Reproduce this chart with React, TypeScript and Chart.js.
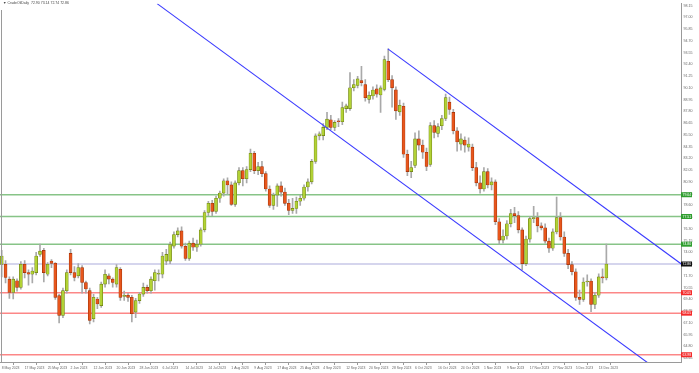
import React, { useEffect, useRef } from 'react';
import { Chart, registerables } from 'chart.js';

Chart.register(...registerables);

const xTickLabels = [
  '8 May 2023', '17 May 2023', '25 May 2023', '2 Jun 2023', '12 Jun 2023', '20 Jun 2023',
  '28 Jun 2023', '6 Jul 2023', '14 Jul 2023', '24 Jul 2023', '1 Aug 2023', '9 Aug 2023',
  '17 Aug 2023', '25 Aug 2023', '4 Sep 2023', '12 Sep 2023', '20 Sep 2023', '28 Sep 2023',
  '6 Oct 2023', '16 Oct 2023', '24 Oct 2023', '1 Nov 2023', '9 Nov 2023', '17 Nov 2023',
  '27 Nov 2023', '5 Dec 2023', '13 Dec 2023',
];
const xTickStep = 6;

const yTickValues = [
  63.65, 64.8, 65.95, 67.1, 68.25, 69.4, 70.55, 71.7, 72.85, 74.0, 75.15, 76.3, 77.45, 78.6,
  79.75, 80.9, 82.05, 83.2, 84.35, 85.5, 86.65, 87.8, 88.95, 90.1, 91.25, 92.4, 93.55, 94.7,
  95.85, 97.0, 98.15,
];

const opens = [
  72.83, 72.83, 71.38, 70.08, 71.22, 70.57, 72.83, 72.02, 71.86, 72.02,
  73.8, 74.19, 71.86, 73.15, 72.93, 69.76, 67.82, 70.25, 73.9, 72.02,
  71.7, 72.51, 71.05, 70.25, 67.5, 69.44, 68.79, 70.89, 71.7, 71.38,
  70.89, 72.35, 69.7, 69.8, 69.6, 68.15, 69.28, 69.92, 70.57, 70.25,
  71.22, 71.86, 71.86, 73.15, 73.15, 74.61, 75.74, 76.1, 74.6, 73.4,
  74.9, 74.5, 74.8, 76.2, 77.9, 78.8, 78.0, 79.3, 79.8, 81.0,
  80.6, 78.7, 80.8, 82.0, 81.2, 82.1, 83.7, 82.0, 82.4, 81.7,
  80.2, 78.6, 79.6, 80.5, 79.9, 78.8, 78.1, 78.3, 79.0, 79.3,
  80.4, 80.9, 82.9, 85.4, 85.43, 86.23, 86.98, 86.23, 86.8, 86.78,
  88.07, 88.07, 90.11, 90.33, 90.82, 90.43, 88.98, 89.3, 90.0, 89.4,
  89.95, 92.7, 90.9, 89.9, 87.75, 88.3, 83.6, 81.9, 82.5, 85.1,
  84.5, 83.8, 82.6, 86.4, 85.65, 86.4, 87.1, 88.7, 87.7, 85.9,
  84.6, 85.0, 84.3, 84.3, 82.3, 80.8, 80.2, 81.9, 80.6, 80.9,
  77.0, 75.2, 75.6, 76.8, 77.8, 77.6, 76.2, 72.9, 75.3, 77.3,
  77.4, 76.6, 76.4, 75.1, 74.4, 76.0, 77.4, 75.5, 73.9, 72.8,
  72.1, 69.6, 69.4, 71.1, 71.2, 68.9, 69.8, 71.6, 71.5,
];
const highs = [
  74.2, 73.2, 71.6, 71.6, 71.4, 73.1, 73.2, 72.3, 72.5, 74.0,
  74.8, 74.4, 73.0, 73.3, 73.0, 69.9, 70.5, 72.3, 74.3, 72.6,
  72.9, 72.7, 71.2, 70.5, 69.9, 69.6, 71.1, 72.3, 71.9, 71.5,
  72.8, 72.5, 70.2, 70.0, 69.8, 69.5, 70.1, 71.0, 70.8, 71.6,
  72.3, 72.3, 74.0, 74.3, 75.0, 76.0, 76.4, 76.5, 74.9, 75.1,
  75.4, 75.2, 76.4, 78.1, 79.0, 79.1, 79.5, 80.0, 81.2, 81.3,
  80.9, 81.0, 82.3, 82.3, 82.4, 84.1, 83.9, 82.8, 82.9, 81.9,
  80.5, 79.8, 80.7, 80.9, 80.3, 79.2, 79.3, 79.4, 79.6, 80.6,
  81.2, 83.1, 85.6, 85.8, 86.6, 87.7, 87.4, 86.9, 87.1, 88.7,
  88.5, 91.6, 90.9, 91.24, 92.2, 90.9, 89.7, 90.2, 90.4, 90.3,
  93.2, 93.92, 91.3, 90.2, 88.9, 88.6, 84.0, 82.9, 85.7, 85.9,
  85.0, 84.2, 86.7, 86.9, 86.6, 87.4, 89.5, 89.2, 88.0, 86.2,
  85.6, 85.3, 85.2, 84.6, 82.8, 81.5, 82.3, 82.2, 81.3, 81.1,
  77.3, 76.2, 77.1, 78.2, 78.4, 78.0, 76.4, 75.6, 77.5, 78.5,
  77.9, 76.9, 76.8, 75.4, 76.3, 79.4, 77.9, 76.0, 74.3, 73.1,
  72.4, 70.3, 71.5, 71.8, 71.4, 70.1, 71.9, 72.4, 74.8,
];
const lows = [
  71.6, 71.0, 69.5, 69.44, 70.2, 70.4, 71.5, 70.8, 71.0, 71.8,
  73.6, 71.1, 71.7, 72.5, 69.4, 67.1, 67.6, 70.0, 71.8, 71.2,
  71.5, 70.0, 70.0, 67.0, 67.2, 68.5, 68.6, 70.6, 70.9, 70.6,
  70.6, 69.3, 69.3, 69.2, 67.2, 67.6, 69.0, 69.7, 70.0, 70.0,
  70.3, 71.2, 71.5, 72.8, 72.9, 74.4, 75.5, 74.4, 73.2, 73.2,
  74.2, 74.1, 74.6, 76.0, 77.6, 77.6, 77.8, 78.9, 79.5, 79.7,
  78.6, 78.5, 80.6, 80.5, 80.8, 81.9, 81.7, 81.6, 81.4, 80.0,
  78.4, 78.2, 78.5, 79.5, 78.6, 77.7, 77.8, 77.8, 78.6, 79.1,
  80.0, 80.7, 82.7, 85.0, 85.0, 86.0, 86.0, 85.9, 86.3, 86.5,
  87.7, 87.9, 89.8, 90.1, 90.3, 88.8, 88.6, 89.0, 89.2, 87.7,
  89.8, 90.7, 88.2, 87.0, 87.4, 83.3, 81.5, 81.3, 82.3, 84.0,
  83.2, 82.0, 82.4, 85.2, 85.3, 86.0, 86.9, 87.5, 85.6, 83.9,
  84.0, 83.8, 83.9, 82.0, 80.5, 79.8, 80.0, 80.3, 80.1, 76.7,
  74.8, 74.9, 75.3, 76.5, 76.9, 75.9, 72.3, 72.7, 75.0, 76.9,
  76.0, 76.2, 74.9, 74.0, 74.2, 75.8, 75.2, 73.6, 72.4, 71.8,
  69.3, 68.9, 69.2, 70.7, 68.2, 68.5, 69.6, 71.0, 71.3,
];
const closes = [
  73.64, 71.54, 70.08, 71.38, 70.57, 72.83, 72.02, 71.86, 72.18, 73.64,
  74.12, 72.02, 72.83, 72.93, 69.6, 67.82, 70.25, 72.02, 72.02, 71.54,
  72.51, 71.05, 70.41, 67.34, 69.6, 68.95, 70.89, 71.86, 71.38, 71.05,
  72.51, 69.6, 69.76, 69.6, 67.99, 69.28, 69.92, 70.57, 70.25, 71.38,
  72.02, 71.93, 73.64, 73.8, 74.77, 75.74, 76.1, 74.6, 73.4, 74.9,
  74.5, 74.8, 76.2, 77.9, 78.8, 78.0, 79.3, 79.8, 81.0, 80.6,
  78.7, 80.8, 82.0, 81.2, 82.1, 83.7, 82.0, 82.4, 81.7, 80.2,
  78.6, 79.6, 80.5, 79.9, 78.8, 78.1, 78.3, 79.0, 79.3, 80.4,
  80.9, 82.9, 85.4, 85.6, 86.23, 87.04, 86.23, 86.72, 86.78, 88.17,
  88.33, 90.11, 90.43, 90.98, 90.6, 89.14, 89.37, 89.88, 89.47, 90.1,
  92.86, 90.9, 90.1, 87.85, 88.4, 83.6, 81.9, 82.3, 85.1, 84.5,
  83.8, 82.4, 86.4, 85.75, 86.3, 87.1, 89.14, 88.0, 85.9, 84.8,
  85.1, 84.5, 84.6, 82.3, 80.8, 80.2, 81.9, 80.6, 80.9, 77.0,
  75.2, 75.6, 76.8, 77.8, 77.6, 76.2, 72.9, 75.3, 77.3, 77.4,
  76.6, 76.4, 75.1, 74.4, 76.0, 77.4, 75.5, 73.9, 72.8, 72.1,
  69.6, 69.4, 71.1, 71.2, 68.9, 69.8, 71.6, 71.5, 72.86,
];

const resistanceLevels = [79.64, 77.51, 74.8];
const supportLevels = [70.05, 68.05, 63.98];
const lastPrice = 72.86;
const upperTrend = [{ x: 100.9, y: 93.92 }, { x: 177.6, y: 72.86 }];
const lowerTrend = [{ x: 40.6, y: 98.34 }, { x: 168.9, y: 63.17 }];
const headerText = '\u25BC CrudeOilDaily  72.90 73.14 72.74 72.86';

const X_MIN = -0.45;
const X_MAX = 177.5;
const Y_MIN = 63.27;
const Y_MAX = 98.34;

const FONT = 'Liberation Sans';
const BULL = '#b2d235';
const BULL_EDGE = '#6b7d12';
const BEAR = '#e8561c';
const BEAR_EDGE = '#9a3008';

export default function App() {
  const ref = useRef<HTMLCanvasElement | null>(null);

  useEffect(() => {
    document.body.style.margin = '0';
    const canvas = ref.current;
    if (!canvas) return;

    const bull = opens.map((o, i) => closes[i] >= o);

    const hLine = (v: number, color: string) => ({
      type: 'line' as const,
      data: [{ x: X_MIN, y: v }, { x: X_MAX, y: v }],
      borderColor: color,
      borderWidth: 1.5,
      pointRadius: 0,
      order: 5,
    });

    const overlay = {
      id: 'overlay',
      afterDraw(chart: any) {
        const { ctx, chartArea } = chart;
        const ys = chart.scales.y;
        ctx.save();
        ctx.strokeStyle = '#9a9a9a';
        ctx.lineWidth = 1;
        ctx.beginPath();
        ctx.moveTo(1.5, 10);
        ctx.lineTo(1.5, chartArea.bottom);
        ctx.stroke();

        const tags: [number, string][] = [
          ...resistanceLevels.map((v) => [v, '#2f9e2f'] as [number, string]),
          [lastPrice, '#111111'],
          ...supportLevels.map((v) => [v, '#f42a2a'] as [number, string]),
        ];
        ctx.font = `3.5px "${FONT}"`;
        ctx.textBaseline = 'middle';
        ctx.textAlign = 'left';
        tags.forEach(([v, c]) => {
          const py = ys.getPixelForValue(v);
          ctx.fillStyle = c;
          ctx.fillRect(chartArea.right, py - 2.5, 11, 5);
          ctx.fillStyle = '#ffffff';
          ctx.fillText(v.toFixed(2), chartArea.right + 1.5, py + 0.3);
        });

        ctx.fillStyle = '#444';
        ctx.font = `3.5px "${FONT}"`;
        ctx.textBaseline = 'middle';
        ctx.fillText(headerText, 3, 3.5);
        ctx.restore();
      },
    };

    const chart = new Chart(canvas, {
      type: 'bar',
      data: {
        datasets: [
          hLine(resistanceLevels[0], 'rgba(70,165,70,0.65)'),
          hLine(resistanceLevels[1], 'rgba(70,165,70,0.65)'),
          hLine(resistanceLevels[2], 'rgba(70,165,70,0.65)'),
          hLine(lastPrice, 'rgba(160,160,215,0.6)'),
          hLine(supportLevels[0], 'rgba(250,70,70,0.65)'),
          hLine(supportLevels[1], 'rgba(250,70,70,0.65)'),
          hLine(supportLevels[2], 'rgba(250,70,70,0.65)'),
          {
            type: 'bar' as const,
            data: lows.map((l, i) => ({ x: i, y: [l, highs[i]] })) as any,
            backgroundColor: '#a9a9a9',
            barThickness: 1,
            grouped: false,
            order: 3,
          },
          {
            type: 'bar' as const,
            data: opens.map((o, i) => ({ x: i, y: [o, closes[i]] })) as any,
            backgroundColor: bull.map((b) => (b ? BULL : BEAR)),
            borderColor: bull.map((b) => (b ? BULL_EDGE : BEAR_EDGE)),
            borderWidth: 0.6,
            borderSkipped: false,
            barThickness: 3,
            minBarLength: 1,
            grouped: false,
            order: 2,
          },
          {
            type: 'line' as const,
            data: upperTrend,
            borderColor: '#3a3aff',
            borderWidth: 1.1,
            pointRadius: 0,
            order: 0,
          },
          {
            type: 'line' as const,
            data: lowerTrend,
            borderColor: '#3a3aff',
            borderWidth: 1.1,
            pointRadius: 0,
            order: 0,
          },
        ] as any,
      },
      options: {
        responsive: false,
        animation: false,
        events: [],
        layout: { padding: 0 },
        plugins: { legend: { display: false }, tooltip: { enabled: false } },
        scales: {
          x: {
            type: 'linear',
            position: 'bottom',
            min: X_MIN,
            max: X_MAX,
            offset: false,
            afterBuildTicks: (s: any) => {
              s.ticks = xTickLabels.map((_, k) => ({ value: k * xTickStep }));
            },
            afterFit: (s: any) => {
              s.height = 11;
            },
            ticks: {
              autoSkip: false,
              maxRotation: 0,
              align: 'start',
              padding: 1,
              color: '#666',
              font: { family: FONT, size: 3.4 },
              callback: (v: any) => xTickLabels[Math.round(Number(v) / xTickStep)] ?? '',
            },
            grid: { drawOnChartArea: false, tickLength: 3, color: '#999' },
            border: { display: true, color: '#9a9a9a', width: 1 },
          },
          y: {
            type: 'linear',
            position: 'right',
            min: Y_MIN,
            max: Y_MAX,
            afterBuildTicks: (s: any) => {
              s.ticks = yTickValues.map((v) => ({ value: v }));
            },
            afterFit: (s: any) => {
              s.width = 18;
            },
            ticks: {
              padding: 1.5,
              color: '#666',
              font: { family: FONT, size: 3.6 },
              callback: (v: any) => Number(v).toFixed(2),
            },
            grid: { drawOnChartArea: false, tickLength: 1, color: '#999' },
            border: { display: true, color: '#9a9a9a', width: 1 },
          },
        },
      } as any,
      plugins: [overlay],
    });

    return () => chart.destroy();
  }, []);

  return (
    <div style={{ width: 699, height: 373, background: '#fff' }}>
      <canvas ref={ref} width={699} height={373} style={{ display: 'block' }} />
    </div>
  );
}
